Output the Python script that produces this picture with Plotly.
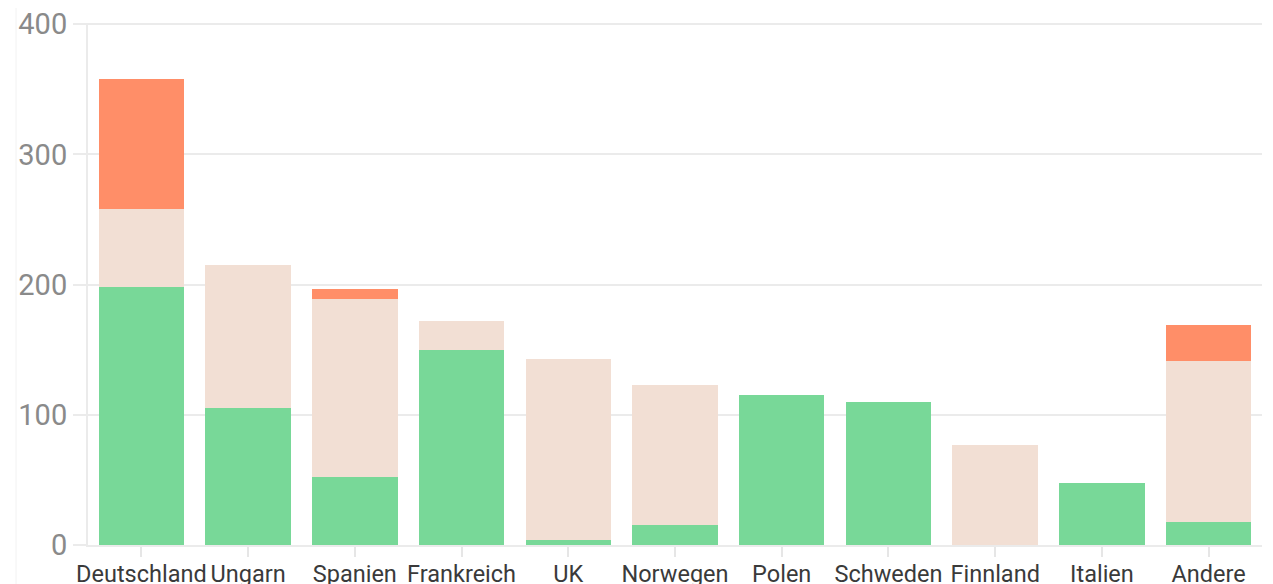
import plotly.graph_objects as go

categories = ["Deutschland", "Ungarn", "Spanien", "Frankreich", "UK", "Norwegen",
              "Polen", "Schweden", "Finnland", "Italien", "Andere"]
green_vals = [198, 105, 52, 150, 4, 15, 115, 110, 0, 48, 18]
beige_vals = [60, 110, 137, 22, 139, 108, 0, 0, 77, 0, 123]
orange_vals = [100, 0, 8, 0, 0, 0, 0, 0, 0, 0, 28]
y_ticks = [0, 100, 200, 300, 400]

fig = go.Figure()
fig.add_trace(go.Bar(x=categories, y=green_vals, marker=dict(color="#78d898", line=dict(width=0))))
fig.add_trace(go.Bar(x=categories, y=beige_vals, marker=dict(color="#f2dfd4", line=dict(width=0))))
fig.add_trace(go.Bar(x=categories, y=orange_vals, marker=dict(color="#ff8e68", line=dict(width=0))))

fig.update_layout(
    barmode="stack",
    bargap=0.2,
    showlegend=False,
    width=1273, height=584,
    margin=dict(l=80, r=19, t=15, b=47, autoexpand=False),
    paper_bgcolor="white", plot_bgcolor="white",
    font=dict(family="Roboto", color="#333"),
)
fig.update_yaxes(range=[0, 401], tickvals=y_ticks, showgrid=True, gridcolor="#ebebeb", gridwidth=2,
                 zeroline=False, ticks="outside", ticklen=13, tickcolor="#ebebeb", tickwidth=2,
                 tickfont=dict(size=29, color="#8a8a8a"), showline=True, linecolor="#ebebeb", linewidth=2,
                 automargin=False, ticklabeloverflow="allow")
fig.update_xaxes(ticks="outside", ticklen=10, tickcolor="#e6e6e6", tickwidth=2,
                 tickfont=dict(size=23.5, color="#3a3a3a"), showline=True, linecolor="#ebebeb", linewidth=2,
                 automargin=False, ticklabeloverflow="allow", ticklabelstandoff=-3)
fig.add_shape(type="line", xref="paper", yref="paper", x0=-0.0613, x1=-0.0613, y0=-0.1, y1=1.1,
              line=dict(color="#f2f2f2", width=1))

fig.write_html("out.html")
